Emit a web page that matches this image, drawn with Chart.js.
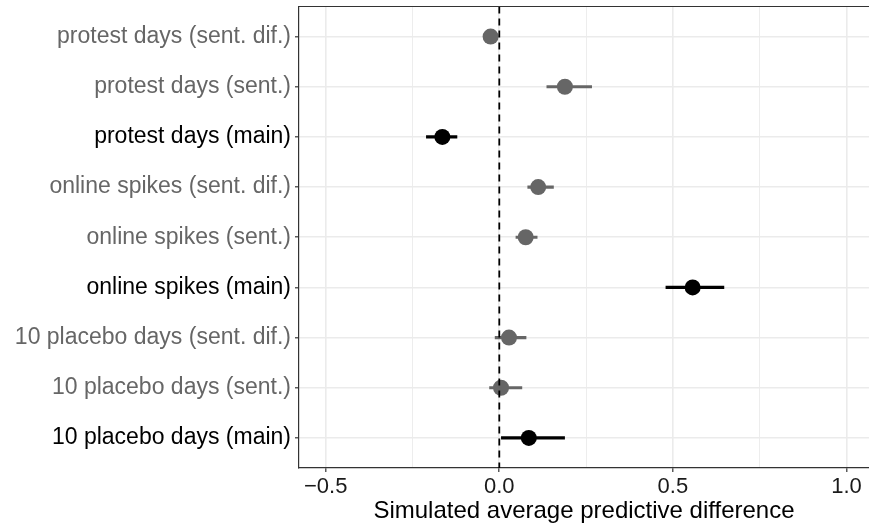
<!DOCTYPE html>
<html>
<head>
<meta charset="utf-8">
<script src="https://cdn.jsdelivr.net/npm/chart.js@4/dist/chart.umd.min.js"></script>
<style>
  html, body { margin: 0; padding: 0; background: #fff; }
  #wrap { width: 869px; height: 529px; }
</style>
</head>
<body>
<div id="wrap"><canvas id="chart"></canvas></div>
<script>
const categories = [
  'protest days (sent. dif.)',
  'protest days (sent.)',
  'protest days (main)',
  'online spikes (sent. dif.)',
  'online spikes (sent.)',
  'online spikes (main)',
  '10 placebo days (sent. dif.)',
  '10 placebo days (sent.)',
  '10 placebo days (main)'
];
const estimates = [-0.025, 0.189, -0.164, 0.112, 0.076, 0.557, 0.028, 0.005, 0.085];
const lower = [-0.035, 0.136, -0.211, 0.081, 0.047, 0.479, -0.013, -0.029, 0.005];
const upper = [-0.015, 0.267, -0.121, 0.157, 0.110, 0.648, 0.078, 0.066, 0.189];
const isMain = [false, false, true, false, false, true, false, false, true];
const xTicks = [-0.5, -0.25, 0, 0.25, 0.5, 0.75, 1.0];
const xLabelTicks = [-0.5, 0, 0.5, 1.0];

const grey = '#666666';
const font = 'Liberation Sans, Arial, sans-serif';
const colorFor = i => isMain[i] ? '#000000' : grey;
const rowPos = categories.map((c, i) => i + 1);

// one short line per row for the interval
const errorSets = categories.map((c, i) => ({
  type: 'line',
  data: [{ x: lower[i], y: rowPos[i] }, { x: upper[i], y: rowPos[i] }],
  borderColor: colorFor(i),
  borderWidth: 3.2,
  borderCapStyle: 'butt',
  pointRadius: 0,
  order: 3
}));

const topBorder = {
  id: 'topBorder',
  afterDraw(chart) {
    const { ctx, chartArea } = chart;
    ctx.save();
    ctx.strokeStyle = '#333333';
    ctx.lineWidth = 1.2;
    ctx.beginPath();
    ctx.moveTo(chartArea.left, chartArea.top);
    ctx.lineTo(chartArea.right, chartArea.top);
    ctx.stroke();
    ctx.restore();
  }
};

new Chart(document.getElementById('chart'), {
  type: 'scatter',
  data: {
    datasets: [
      ...errorSets,
      {
        type: 'line',
        data: [{ x: 0, y: 0.4 }, { x: 0, y: 9.6 }],
        borderColor: '#000000',
        borderWidth: 1.8,
        borderDash: [7, 5],
        pointRadius: 0,
        order: 1
      },
      {
        type: 'scatter',
        data: estimates.map((v, i) => ({ x: v, y: rowPos[i] })),
        backgroundColor: estimates.map((v, i) => colorFor(i)),
        borderWidth: 0,
        pointRadius: 8,
        order: 2
      }
    ]
  },
  options: {
    responsive: true,
    maintainAspectRatio: false,
    animation: false,
    layout: { autoPadding: false, padding: { top: 6.5, right: 0, left: 0, bottom: 0 } },
    plugins: {
      legend: { display: false },
      tooltip: { enabled: false }
    },
    scales: {
      x: {
        type: 'linear',
        min: -0.577,
        max: 1.065,
        afterBuildTicks: scale => { scale.ticks = xTicks.map(v => ({ value: v })); },
        afterFit: scale => {
          scale.height = 61;
          scale.paddingLeft = 0;
          scale.paddingRight = 0;
        },
        ticks: {
          autoSkip: false,
          maxRotation: 0,
          padding: 2,
          color: '#1a1a1a',
          font: { family: font, size: 22 },
          callback: v => xLabelTicks.includes(v) ? (v < 0 ? '\u2212' + Math.abs(v).toFixed(1) : v.toFixed(1)) : ''
        },
        grid: {
          color: '#ebebeb',
          lineWidth: ctx => xLabelTicks.includes(ctx.tick && ctx.tick.value) ? 1.6 : 0.9,
          tickLength: 4,
          tickColor: ctx => xLabelTicks.includes(ctx.tick && ctx.tick.value) ? '#333333' : 'rgba(0,0,0,0)',
          tickWidth: 1.2
        },
        border: { display: true, color: '#333333', width: 1.2 },
        title: {
          display: true,
          text: 'Simulated average predictive difference',
          color: '#000000',
          padding: { top: 0, bottom: 3 },
          font: { family: font, size: 24 }
        }
      },
      y: {
        type: 'linear',
        reverse: true,
        min: 0.4,
        max: 9.6,
        afterBuildTicks: scale => { scale.ticks = rowPos.map(v => ({ value: v })); },
        afterFit: scale => {
          scale.width = 299;
          scale.paddingTop = 0;
          scale.paddingBottom = 0;
        },
        ticks: {
          autoSkip: false,
          padding: 4,
          color: ctx => colorFor(ctx.tick.value - 1),
          font: { family: font, size: 23 },
          callback: v => categories[v - 1]
        },
        grid: {
          color: '#ebebeb',
          lineWidth: 1.6,
          tickLength: 4,
          tickColor: '#333333',
          tickWidth: 1.2
        },
        border: { display: true, color: '#333333', width: 1.2 }
      }
    }
  },
  plugins: [topBorder]
});
</script>
</body>
</html>
